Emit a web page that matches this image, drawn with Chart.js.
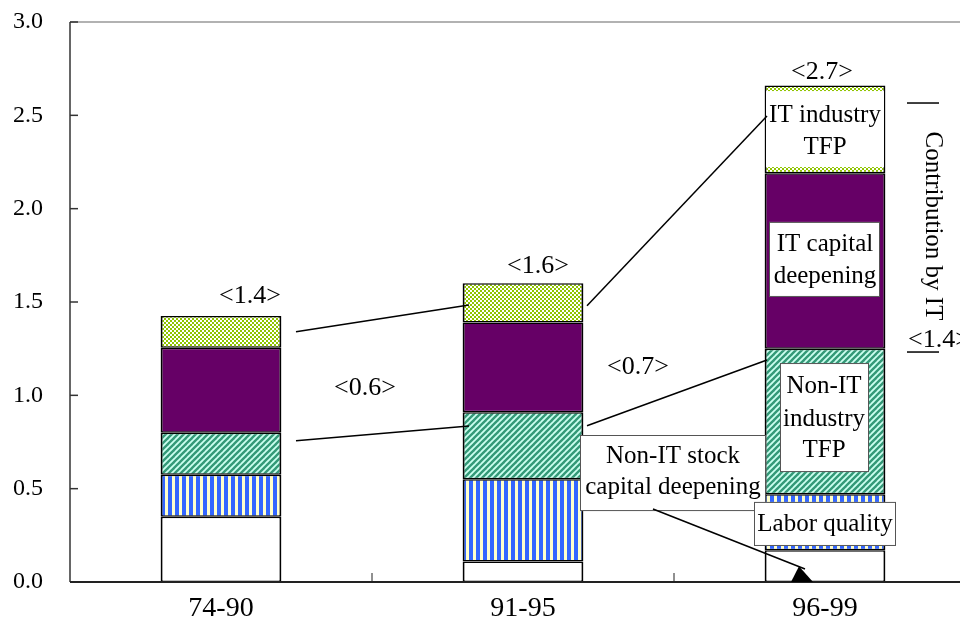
<!DOCTYPE html>
<html>
<head>
<meta charset="utf-8">
<script src="https://cdn.jsdelivr.net/npm/chart.js@4.4.1/dist/chart.umd.min.js"></script>
<style>
html, body { margin: 0; padding: 0; background: #fff; overflow: hidden; }
#wrap { width: 1000px; height: 641px; }
</style>
</head>
<body>
<div id="wrap"><canvas id="chart" width="1000" height="641"></canvas></div>
<script>
// periods and contributions (percentage points)
const categories = ["74-90", "91-95", "96-99"];
const nonItCapital = [0.35, 0.11, 0.17];
const laborQuality = [0.225, 0.44, 0.30];
const nonItTfp = [0.225, 0.36, 0.78];
const itCapital = [0.455, 0.48, 0.94];
const itTfp = [0.17, 0.21, 0.47];
const totalLabels = ["<1.4>", "<1.6>", "<2.7>"];
const itLabels = ["<0.6>", "<0.7>", "<1.4>"];
const yTicks = [0, 0.5, 1.0, 1.5, 2.0, 2.5, 3.0];

const FONT = '"Liberation Serif", "Times New Roman", serif';

function pattern(w, h, draw) {
	const c = document.createElement("canvas");
	c.width = w;
	c.height = h;
	const g = c.getContext("2d");
	draw(g);
	return g.createPattern(c, "repeat");
}

const checker = pattern(4, 4, g => {
	g.fillStyle = "#8FC400";
	g.fillRect(0, 0, 4, 4);
	g.fillStyle = "#FFFFFF";
	g.fillRect(0, 0, 2, 2);
	g.fillRect(2, 2, 2, 2);
});

const diagonal = pattern(6, 6, g => {
	g.fillStyle = "#CCFFF0";
	g.fillRect(0, 0, 6, 6);
	g.strokeStyle = "#339977";
	g.lineWidth = 2.4;
	for (let k = -1; k <= 1; k++) {
		g.beginPath();
		g.moveTo(k * 6 - 1, 7);
		g.lineTo(k * 6 + 7, -1);
		g.stroke();
	}
});

const vertical = pattern(7, 2, g => {
	g.fillStyle = "#FFFFCC";
	g.fillRect(0, 0, 7, 2);
	g.fillStyle = "#3366FF";
	g.fillRect(0, 0, 4, 2);
});

function ds(label, data, bg) {
	return {
		label: label,
		data: data,
		backgroundColor: bg,
		borderColor: "#000",
		borderWidth: { top: 1.5, bottom: 1.5, left: 2, right: 2 },
		borderSkipped: false,
		barPercentage: 1,
		categoryPercentage: 0.4
	};
}

const annotations = {
	id: "annotations",
	afterDatasetsDraw(chart) {
		const ctx = chart.ctx;
		const x = chart.scales.x;
		const y = chart.scales.y;
		const area = chart.chartArea;
		const cx = i => x.getPixelForValue(i);
		const py = v => y.getPixelForValue(v);

		ctx.save();

		// frame: top line, left axis, bottom axis and inward ticks
		ctx.strokeStyle = "#999";
		ctx.lineWidth = 1.5;
		ctx.beginPath();
		ctx.moveTo(area.left, area.top);
		ctx.lineTo(area.right, area.top);
		ctx.stroke();

		ctx.strokeStyle = "#333";
		ctx.lineWidth = 1.5;
		ctx.beginPath();
		ctx.moveTo(area.left, area.top);
		ctx.lineTo(area.left, area.bottom);
		ctx.stroke();
		yTicks.forEach(t => {
			if (t === 0) return;
			ctx.beginPath();
			ctx.moveTo(area.left, py(t));
			ctx.lineTo(area.left + 8, py(t));
			ctx.stroke();
		});

		ctx.strokeStyle = "#222";
		ctx.lineWidth = 2;
		ctx.beginPath();
		ctx.moveTo(area.left, area.bottom);
		ctx.lineTo(area.right, area.bottom);
		ctx.stroke();
		ctx.lineWidth = 1;
		for (let i = 0; i < categories.length - 1; i++) {
			const bx = (cx(i) + cx(i + 1)) / 2;
			ctx.beginPath();
			ctx.moveTo(bx, area.bottom);
			ctx.lineTo(bx, area.bottom - 9);
			ctx.stroke();
		}

		// label boxes on the last bar
		const c1 = cx(1), c2 = cx(2);
		function box(x0, x1, y0, y1, border) {
			ctx.fillStyle = "#fff";
			ctx.fillRect(x0, y0, x1 - x0, y1 - y0);
			if (border) {
				ctx.strokeStyle = "#555";
				ctx.lineWidth = 1;
				ctx.strokeRect(x0 + 0.5, y0 + 0.5, x1 - x0 - 1, y1 - y0 - 1);
			}
		}
		box(c2 - 59, c2 + 59, py(2.63), py(2.223), false);
		box(c2 - 56, c2 + 55, py(1.929), py(1.527), true);
		box(c2 - 45, c2 + 44, py(1.173), py(0.589), true);
		box(c1 + 57, c2 - 59, py(0.7875), py(0.38), true);
		box(c2 - 71, c2 + 71, py(0.429), py(0.193), true);

		// connecting lines
		ctx.strokeStyle = "#000";
		ctx.lineWidth = 1.5;
		function line(x0, y0, x1, y1) {
			ctx.beginPath();
			ctx.moveTo(x0, y0);
			ctx.lineTo(x1, y1);
			ctx.stroke();
		}
		const c0 = cx(0);
		line(c0 + 75, py(1.341), c1 - 54, py(1.484));
		line(c0 + 75, py(0.757), c1 - 54, py(0.836));
		line(c1 + 64, py(1.48), c2 - 58, py(2.496));
		line(c1 + 64, py(0.837), c2 - 58, py(1.189));
		line(c1 + 130, py(0.391), c2 - 20, py(0.07));
		ctx.fillStyle = "#000";
		ctx.beginPath();
		ctx.moveTo(c2 - 26, py(0.085));
		ctx.lineTo(c2 - 34, area.bottom);
		ctx.lineTo(c2 - 12, area.bottom);
		ctx.closePath();
		ctx.fill();

		// side bracket for IT contribution
		line(c2 + 82, py(2.566), c2 + 114, py(2.566));
		line(c2 + 82, py(1.232), c2 + 114, py(1.232));

		// texts
		ctx.fillStyle = "#000";
		ctx.textAlign = "center";
		ctx.textBaseline = "middle";
		ctx.font = "25px " + FONT;
		ctx.fillText("IT industry", c2, py(2.5));
		ctx.fillText("TFP", c2, py(2.33));
		ctx.fillText("IT capital", c2, py(1.811));
		ctx.fillText("deepening", c2, py(1.639));
		ctx.fillText("Non-IT", c2 - 1, py(1.050));
		ctx.fillText("industry", c2 - 1, py(0.873));
		ctx.fillText("TFP", c2 - 1, py(0.707));
		ctx.fillText("Non-IT stock", (c1 + 57 + c2 - 59) / 2, py(0.670));
		ctx.fillText("capital deepening", (c1 + 57 + c2 - 59) / 2, py(0.504));
		ctx.fillText("Labor quality", c2, py(0.311));

		ctx.font = "26px " + FONT;
		ctx.fillText(totalLabels[0], c0 + 29, py(1.532));
		ctx.fillText(totalLabels[1], c1 + 15, py(1.693));
		ctx.fillText(totalLabels[2], c2 - 3, py(2.732));
		ctx.fillText(itLabels[0], c0 + 144, py(1.039));
		ctx.fillText(itLabels[1], c1 + 115, py(1.152));

		ctx.save();
		ctx.translate(c2 + 108, py(1.907));
		ctx.rotate(Math.PI / 2);
		ctx.font = "25px " + FONT;
		ctx.fillText("Contribution by IT", 0, 0);
		ctx.restore();

		ctx.font = "26px " + FONT;
		ctx.fillText(itLabels[2], c2 + 114, py(1.296));

		ctx.restore();
	}
};

new Chart(document.getElementById("chart"), {
	type: "bar",
	data: {
		labels: categories,
		datasets: [
			ds("Non-IT stock capital deepening", nonItCapital, "#FFFFFF"),
			ds("Labor quality", laborQuality, vertical),
			ds("Non-IT industry TFP", nonItTfp, diagonal),
			ds("IT capital deepening", itCapital, "#660066"),
			ds("IT industry TFP", itTfp, checker)
		]
	},
	options: {
		responsive: false,
		animation: false,
		devicePixelRatio: 1,
		layout: { padding: { left: 0, top: 22, right: 24, bottom: 0 } },
		plugins: {
			legend: { display: false },
			tooltip: { enabled: false }
		},
		scales: {
			x: {
				stacked: true,
				grid: { display: false, drawTicks: false },
				border: { display: false },
				ticks: {
					color: "#000",
					padding: 10,
					font: { family: FONT, size: 28 }
				},
				afterFit: s => {
					s.height = 59;
					s.paddingLeft = 0;
					s.paddingRight = 0;
				}
			},
			y: {
				stacked: true,
				min: 0,
				max: 3,
				afterBuildTicks: s => { s.ticks = yTicks.map(v => ({ value: v })); },
				grid: { display: false, drawTicks: false },
				border: { display: false },
				ticks: {
					color: "#000",
					padding: 27,
					font: { family: FONT, size: 24 },
					callback: v => Number(v).toFixed(1)
				},
				afterFit: s => {
					s.width = 70;
					s.paddingTop = 0;
					s.paddingBottom = 0;
				}
			}
		}
	},
	plugins: [annotations]
});
</script>
</body>
</html>
